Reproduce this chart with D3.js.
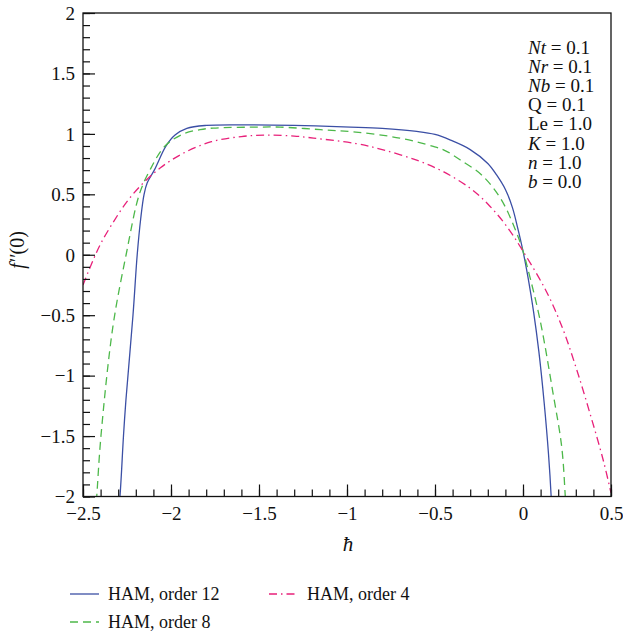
<!DOCTYPE html>
<html>
<head>
<meta charset="utf-8">
<script src="https://cdn.jsdelivr.net/npm/d3@7"></script>
<style>
  body { margin: 0; background: #fff; }
  svg, svg text { font-family: "Liberation Serif", "Times New Roman", serif; }
</style>
</head>
<body>
<script>
// values: [hbar, f''(0)]
const order12 = [[-2.31,-2.3],[-2.29,-2.0],[-2.27,-1.5],[-2.256,-1.2],[-2.216,-0.5],[-2.192,0],[-2.172,0.3],[-2.153,0.5],
  [-2.135,0.595],[-2.095,0.7],[-2.028,0.9],[-1.977,0.99],[-1.91,1.045],[-1.80,1.07],[-1.6,1.075],[-1.3,1.07],
  [-0.98,1.056],[-0.8,1.045],[-0.604,1.02],[-0.5,0.995],[-0.415,0.95],[-0.3,0.87],[-0.2,0.755],[-0.15,0.66],
  [-0.1,0.54],[-0.06,0.39],[-0.03,0.22],[0,0.03],[0.03,-0.2],[0.06,-0.47],[0.09,-0.8],[0.12,-1.22],[0.145,-1.65],
  [0.16,-2.0],[0.168,-2.3]];
const order8 = [[-2.43,-2.15],[-2.422,-2.0],[-2.398,-1.5],[-2.33,-0.593],[-2.255,0],[-2.18,0.5],[-2.12,0.7],[-2.034,0.9],
  [-1.93,1.0],[-1.835,1.035],[-1.76,1.048],[-1.5,1.056],[-1.38,1.056],[-1.15,1.035],[-0.95,1.015],[-0.7,0.965],
  [-0.51,0.896],[-0.44,0.86],[-0.358,0.786],[-0.235,0.66],[-0.125,0.46],[-0.036,0.18],[0,0.03],[0.028,-0.12],
  [0.097,-0.54],[0.17,-1.14],[0.22,-1.59],[0.239,-1.97],[0.245,-2.15]];
const order4 = [[-2.5,-0.25],[-2.45,-0.07],[-2.4,0.09],[-2.33,0.265],[-2.25,0.44],[-2.16,0.59],[-2.06,0.72],
  [-1.93,0.84],[-1.77,0.935],[-1.6,0.978],[-1.45,0.99],[-1.3,0.982],[-1.19,0.965],[-0.95,0.92],[-0.8,0.87],
  [-0.6,0.78],[-0.45,0.685],[-0.3,0.55],[-0.2,0.42],[-0.1,0.25],[0,0.03],[0.135,-0.31],[0.228,-0.62],[0.305,-0.95],
  [0.38,-1.31],[0.456,-1.7],[0.5,-1.97]];
const xTicks = [-2.5, -2, -1.5, -1, -0.5, 0, 0.5];
const yTicks = [-2, -1.5, -1, -0.5, 0, 0.5, 1, 1.5, 2];
const params = [["Nt", " = 0.1", true], ["Nr", " = 0.1", true], ["Nb", " = 0.1", true], ["Q", " = 0.1", false],
  ["Le", " = 1.0", false], ["K", " = 1.0", true], ["n", " = 1.0", true], ["b", " = 0.0", true]];
const seriesNames = ["HAM, order 12", "HAM, order 8", "HAM, order 4"];

const W = 623, H = 635;
const mLeft = 83, mRight = 611, mTop = 13, mBottom = 496.5;
const serif = "'Liberation Serif', 'Times New Roman', serif";

const svg = d3.select("body").append("svg").attr("width", W).attr("height", H)
  .attr("font-family", serif);

const x = d3.scaleLinear().domain([-2.5, 0.5]).range([mLeft, mRight]);
const y = d3.scaleLinear().domain([-2, 2]).range([mBottom, mTop]);

const fmt = d => d === 0 ? "0" : (d < 0 ? "\u2212" : "") + Math.abs(d);

// clip for the curves
svg.append("clipPath").attr("id", "plot")
  .append("rect").attr("x", mLeft).attr("y", mTop).attr("width", mRight - mLeft).attr("height", mBottom - mTop);

// curves
const line = d3.line().x(d => x(d[0])).y(d => y(d[1])).curve(d3.curveCatmullRom.alpha(0.5));
const styles = [
  {data: order12, color: "#3b4fa5", dash: null},
  {data: order8, color: "#4db84a", dash: "8,5"},
  {data: order4, color: "#e8217a", dash: "8,4,1.5,4"}
];
const g = svg.append("g").attr("clip-path", "url(#plot)");
styles.forEach(s => {
  g.append("path").datum(s.data)
    .attr("d", line)
    .attr("fill", "none")
    .attr("stroke", s.color)
    .attr("stroke-width", 1.3)
    .attr("stroke-dasharray", s.dash);
});

// axes, ticks point inward
const xAxis = svg.append("g").attr("transform", "translate(0," + mBottom + ")")
  .call(d3.axisBottom(x).tickValues(xTicks).tickSize(-12).tickPadding(6).tickFormat(fmt));
svg.append("g").attr("transform", "translate(0," + mBottom + ")")
  .call(d3.axisBottom(x).tickValues(d3.range(-25, 6).map(d => d / 10)).tickSize(-7).tickFormat(""));
const yAxis = svg.append("g").attr("transform", "translate(" + mLeft + ",0)")
  .call(d3.axisLeft(y).tickValues(yTicks).tickSize(-12).tickPadding(8).tickFormat(fmt));
svg.append("g").attr("transform", "translate(" + mLeft + ",0)")
  .call(d3.axisLeft(y).tickValues(d3.range(-20, 21).map(d => d / 10)).tickSize(-7).tickFormat(""));

svg.selectAll(".domain").remove();
[xAxis, yAxis].forEach(a => a.attr("font-family", serif).attr("font-size", 19));
svg.selectAll(".tick line").attr("stroke", "#111").attr("stroke-width", 1.2);
svg.selectAll(".tick text").attr("fill", "#111");
xAxis.selectAll(".tick text").attr("dy", "0.9em");
yAxis.selectAll(".tick text").attr("dy", "0.33em");

// frame
svg.append("rect").attr("x", mLeft).attr("y", mTop).attr("width", mRight - mLeft).attr("height", mBottom - mTop)
  .attr("fill", "none").attr("stroke", "#111").attr("stroke-width", 1.3);

// axis titles
svg.append("text").attr("x", 348).attr("y", 551).attr("text-anchor", "middle").attr("fill", "#111")
  .attr("font-size", 21).attr("font-style", "italic").text("\u0127");
const yt = svg.append("text").attr("transform", "translate(24,250) rotate(-90)").attr("text-anchor", "middle")
  .attr("fill", "#111").attr("font-size", 20);
yt.append("tspan").attr("font-style", "italic").text("f");
yt.append("tspan").attr("font-style", "italic").text("\u2032\u2032");
yt.append("tspan").text("(0)");

// parameter block
params.forEach((p, i) => {
  const t = svg.append("text").attr("x", 528).attr("y", 54 + i * 19.1).attr("font-size", 19).attr("fill", "#111");
  t.append("tspan").attr("font-style", p[2] ? "italic" : "normal").text(p[0]);
  t.append("tspan").text(p[1]);
});

// legend
const legendPos = [[70, 594], [70, 622], [269, 594]];
styles.forEach((s, i) => {
  const [lx, ly] = legendPos[i];
  svg.append("line").attr("x1", lx).attr("x2", lx + 29).attr("y1", ly).attr("y2", ly)
    .attr("stroke", s.color).attr("stroke-width", 1.3).attr("stroke-dasharray", s.dash);
  svg.append("text").attr("x", lx + 38).attr("y", ly + 6).attr("font-size", 18).attr("fill", "#111")
    .text(seriesNames[i]);
});
</script>
</body>
</html>
